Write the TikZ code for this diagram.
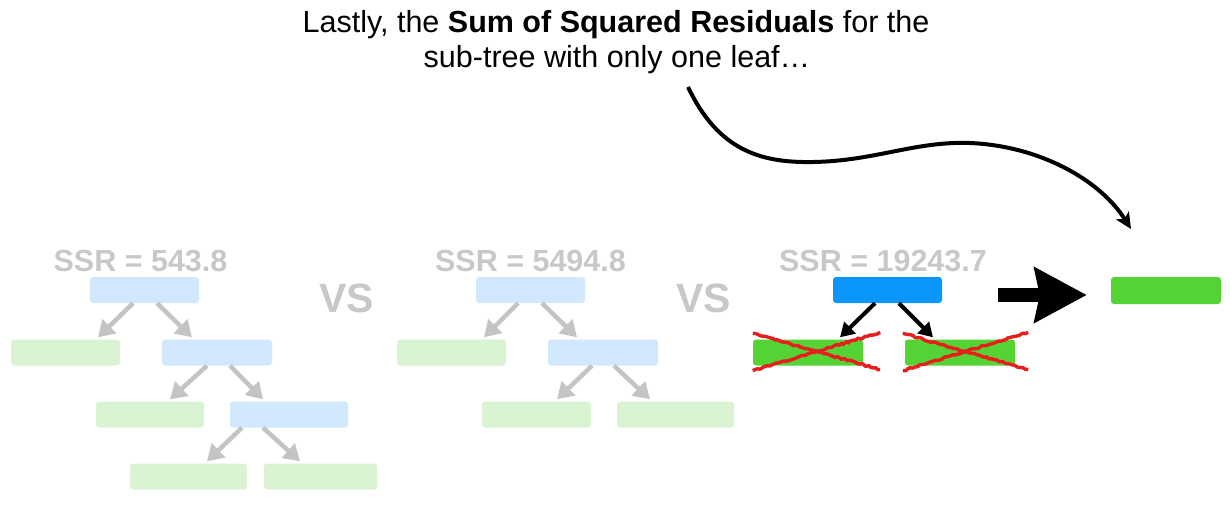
\documentclass[tikz,border=0pt]{standalone}
\usepackage{fontspec}
\setmainfont{Liberation Sans}
\usetikzlibrary{arrows.meta,calc,decorations.pathmorphing}
\definecolor{lblue}{RGB}{210,232,252}
\definecolor{lgreen}{RGB}{218,243,211}
\definecolor{bblue}{RGB}{10,150,252}
\definecolor{bgreen}{RGB}{86,211,52}
\definecolor{gtext}{RGB}{200,200,200}
\definecolor{garrow}{RGB}{196,196,196}
\definecolor{xred}{RGB}{232,30,30}
\tikzset{
  box/.style={rounded corners=3pt, minimum height=26pt, inner sep=0pt},
  lb/.style={box, fill=lblue},
  lg/.style={box, fill=lgreen},
  bb/.style={box, fill=bblue},
  bg/.style={box, fill=bgreen},
  garr/.style={draw=garrow, line width=4.5pt, -{Triangle[length=16pt,width=19pt]}},
  barr/.style={draw=black, line width=4pt, -{Triangle[length=14pt,width=16pt]}},
  ssr/.style={font=\fontsize{30.5}{34}\selectfont\bfseries, text=gtext, anchor=base, inner sep=0pt},
  vstext/.style={font=\fontsize{41}{44}\selectfont\bfseries, text=gtext, anchor=base, inner sep=0pt},
  captext/.style={font=\fontsize{30.5}{35}\selectfont, anchor=base, inner sep=0pt},
  xmark/.style={draw=xred, line width=3.4pt, decorate, decoration={random steps, segment length=2.5pt, amplitude=0.8pt}},
}
\begin{document}
\begin{tikzpicture}[x=1pt,y=-1pt]
\useasboundingbox (0,0) rectangle (1231,511);
% caption
\node[captext] (t1) at (616,33) {Lastly, the \textbf{Sum of Squared Residuals} for the};
\node[captext] (t2) at (617,67) {sub-tree with only one leaf…};
% ---------- tree 1
\node[ssr] (s1) at (140.5,271) {SSR = 543.8};
\node[lb, minimum width=109pt] (r1) at (144.5,290) {};
\node[lg, minimum width=109pt] (a1) at (65.5,352.5) {};
\node[lb, minimum width=110pt] (b1) at (217,352.5) {};
\node[lg, minimum width=108pt] (c1) at (150,414.5) {};
\node[lb, minimum width=118pt] (d1) at (289,414.5) {};
\node[lg, minimum width=117pt] (e1) at (188.5,476.5) {};
\node[lg, minimum width=113pt] (f1) at (320.5,476.5) {};
\draw[garr] ([xshift=-11.5pt]r1.south) -- ([xshift=32.5pt,yshift=2pt]a1.north);
\draw[garr] ([xshift=12.5pt]r1.south) -- ([xshift=-25pt,yshift=2pt]b1.north);
\draw[garr] ([xshift=-10pt]b1.south) -- ([xshift=20pt,yshift=2pt]c1.north);
\draw[garr] ([xshift=13pt]b1.south) -- ([xshift=-26pt,yshift=2pt]d1.north);
\draw[garr] ([xshift=-47pt]d1.south) -- ([xshift=18.5pt,yshift=2pt]e1.north);
\draw[garr] ([xshift=-26pt]d1.south) -- ([xshift=-20.5pt,yshift=2pt]f1.north);
\node[vstext] (v1) at (346.5,312) {VS};
% ---------- tree 2
\node[ssr] (s2) at (530.5,271) {SSR = 5494.8};
\node[lb, minimum width=109pt] (r2) at (530.5,290) {};
\node[lg, minimum width=109pt] (a2) at (451.5,352.5) {};
\node[lb, minimum width=110pt] (b2) at (603,352.5) {};
\node[lg, minimum width=109pt] (c2) at (536.5,414.5) {};
\node[lg, minimum width=117pt] (d2) at (675.5,414.5) {};
\draw[garr] ([xshift=-12.5pt]r2.south) -- ([xshift=32.5pt,yshift=2pt]a2.north);
\draw[garr] ([xshift=11.5pt]r2.south) -- ([xshift=-26pt,yshift=2pt]b2.north);
\draw[garr] ([xshift=-11pt]b2.south) -- ([xshift=20.5pt,yshift=2pt]c2.north);
\draw[garr] ([xshift=11pt]b2.south) -- ([xshift=-25.5pt,yshift=2pt]d2.north);
\node[vstext] (v2) at (703.5,312) {VS};
% ---------- tree 3
\node[ssr] (s3) at (883,271) {SSR = 19243.7};
\node[bb, minimum width=109pt] (r3) at (887.5,290) {};
\node[bg, minimum width=110pt] (a3) at (808,352.5) {};
\node[bg, minimum width=110pt] (b3) at (960,352.5) {};
\draw[barr] ([xshift=-12.5pt]r3.south) -- ([xshift=32pt,yshift=2pt]a3.north);
\draw[barr] ([xshift=11.5pt]r3.south) -- ([xshift=-27pt,yshift=2pt]b3.north);
% red crosses
\draw[xmark] ($(a3.north west)+(0pt,6pt)$) -- ($(a3.south east)+(17pt,-4pt)$);
\draw[xmark] ($(a3.south west)+(0pt,-5pt)$) -- ($(a3.north east)+(17pt,7pt)$);
\draw[xmark] ($(b3.north west)+(-2pt,6pt)$) -- ($(b3.south east)+(13pt,-4pt)$);
\draw[xmark] ($(b3.south west)+(-2pt,-5pt)$) -- ($(b3.north east)+(13pt,7pt)$);
% result leaf and big arrow
\node[bg, minimum width=110pt, minimum height=27pt] (res) at (1166,290.5) {};
\draw[line width=14pt, -{Stealth[length=52pt,width=54pt,inset=5pt]}] ([xshift=-113pt,yshift=-4.5pt]res.west) -- ([xshift=-24pt,yshift=-4.5pt]res.west);
% curved arrow
\coordinate (cs) at (688,87);
\coordinate (ce) at (1131,229);
\draw[line width=4pt, -{Stealth[length=16pt,width=15pt,inset=4pt]}] (cs) .. controls (718,150) and (760,163) .. (813,162) .. controls (875,161) and (915,141) .. (970,143) .. controls (1040,146) and (1100,180) .. (ce);
\end{tikzpicture}
\end{document}
